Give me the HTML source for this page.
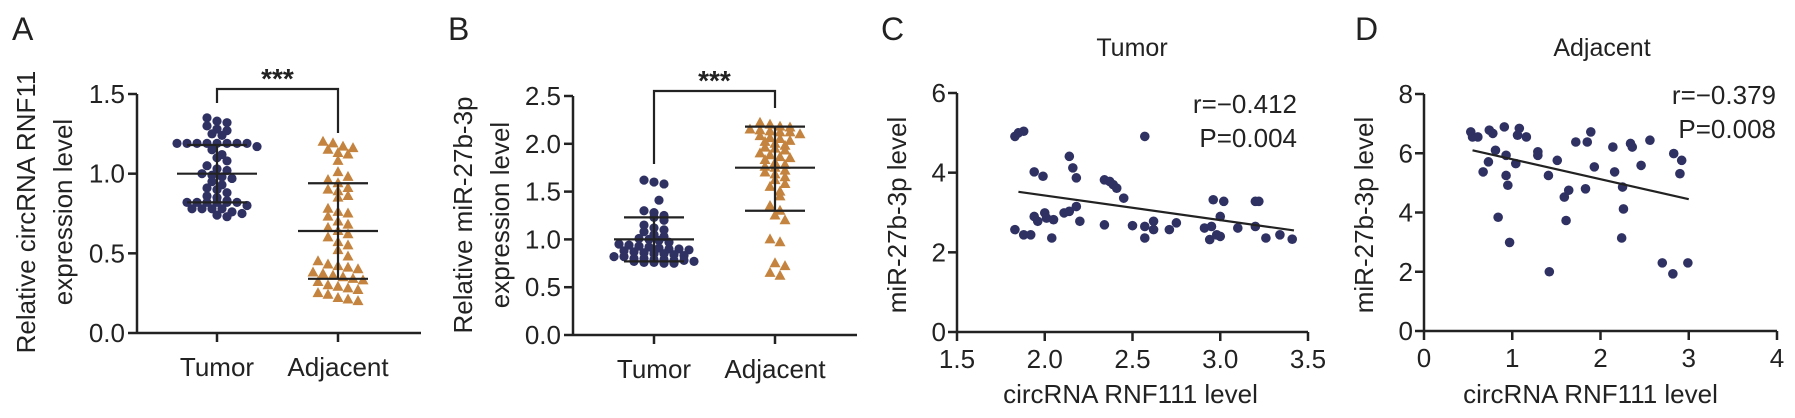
<!DOCTYPE html>
<html><head><meta charset="utf-8">
<style>
html,body{margin:0;padding:0;background:#fff;}
svg{display:block;font-family:"Liberation Sans",Arial,sans-serif;}
</style></head>
<body>
<svg id="fig" width="1795" height="418" viewBox="0 0 1795 418"></svg>
<script>
// ---- Panel A data ----
const aCategories = ["Tumor","Adjacent"];
const aTumor = [1.35,1.33,1.32,1.30,1.28,1.27,1.25,1.24,1.19,1.19,1.19,1.19,1.19,1.19,1.19,1.19,1.17,1.15,1.12,1.10,1.08,1.05,1.03,1.02,1.00,0.99,0.98,0.97,0.95,0.93,0.91,0.90,0.88,0.86,0.85,0.83,0.82,0.82,0.82,0.82,0.82,0.82,0.80,0.78,0.78,0.78,0.78,0.76,0.75,0.74,0.73];
const aAdjacent = [1.20,1.19,1.17,1.16,1.15,1.13,1.12,1.08,1.01,0.98,0.96,0.94,0.91,0.90,0.89,0.86,0.85,0.78,0.76,0.75,0.73,0.70,0.68,0.66,0.64,0.62,0.60,0.57,0.55,0.52,0.48,0.45,0.43,0.42,0.41,0.40,0.38,0.37,0.36,0.35,0.34,0.33,0.32,0.30,0.29,0.28,0.27,0.25,0.24,0.22,0.21,0.20];
const aMean = [1.00,0.64];
const aSdHigh = [1.18,0.94];
const aSdLow = [0.82,0.34];
const aTicks = [0.0,0.5,1.0,1.5];
const aTickLabels = ["0.0","0.5","1.0","1.5"];
// ---- Panel B data ----
const bTumor = [1.62,1.60,1.58,1.41,1.30,1.28,1.25,1.23,1.20,1.15,1.12,1.10,1.08,1.05,1.03,1.01,1.00,0.99,0.97,0.95,0.94,0.93,0.92,0.91,0.90,0.90,0.89,0.88,0.87,0.86,0.85,0.85,0.84,0.83,0.82,0.82,0.80,0.80,0.79,0.79,0.78,0.78,0.77,0.77,0.76,0.76,0.75,0.75];
const bAdjacent = [2.22,2.20,2.18,2.17,2.15,2.14,2.13,2.12,2.12,2.10,2.08,2.06,2.05,2.03,2.02,2.00,1.98,1.96,1.95,1.93,1.90,1.88,1.86,1.85,1.83,1.80,1.78,1.76,1.75,1.72,1.70,1.68,1.65,1.62,1.58,1.55,1.50,1.45,1.35,1.30,1.25,1.20,1.00,0.97,0.75,0.72,0.65,0.62];
const bMean = [1.00,1.75];
const bSdHigh = [1.23,2.18];
const bSdLow = [0.77,1.30];
const bTicks = [0.0,0.5,1.0,1.5,2.0,2.5];
const bTickLabels = ["0.0","0.5","1.0","1.5","2.0","2.5"];
// ---- Panel C data ----
const cX = [1.83,1.88,1.85,1.94,1.99,1.83,1.88,1.92,1.94,1.96,2.00,2.01,2.05,2.04,2.11,2.14,2.18,2.20,2.14,2.16,2.18,2.34,2.34,2.37,2.39,2.41,2.45,2.50,2.57,2.57,2.57,2.62,2.62,2.71,2.75,2.91,2.95,2.94,2.98,3.00,2.96,3.02,3.00,3.10,3.20,3.20,3.22,3.26,3.34,3.41];
const cY = [4.91,5.04,5.00,4.02,3.91,2.57,2.44,2.44,2.90,2.78,2.99,2.86,2.82,2.36,2.99,3.03,3.15,2.78,4.41,4.12,3.87,2.69,3.82,3.78,3.70,3.61,3.36,2.67,4.91,2.65,2.36,2.78,2.57,2.57,2.74,2.61,2.65,2.32,2.44,2.40,3.32,3.28,2.90,2.61,2.65,3.28,3.28,2.36,2.44,2.33];
const cFit = [[1.85,3.52],[3.42,2.55]];
const cXTicks = [1.5,2.0,2.5,3.0,3.5];
const cXTickLabels = ["1.5","2.0","2.5","3.0","3.5"];
const cYTicks = [0,2,4,6];
const cYTickLabels = ["0","2","4","6"];
// ---- Panel D data ----
const dX = [0.53,0.55,0.61,0.74,0.78,0.91,1.08,1.06,1.16,0.81,0.93,0.73,0.67,1.04,0.93,0.95,1.29,1.29,1.51,1.41,1.72,1.85,1.89,1.93,1.83,1.64,1.59,1.61,0.84,0.97,2.14,2.16,2.25,2.26,2.24,2.34,2.36,2.46,2.56,2.83,2.92,2.90,2.70,2.82,2.99,1.42];
const dY = [6.72,6.55,6.55,6.78,6.67,6.89,6.84,6.61,6.55,6.10,5.93,5.71,5.37,5.65,5.25,4.92,6.05,5.93,5.76,5.25,6.38,6.38,6.72,5.54,4.80,4.75,4.52,3.73,3.84,2.99,6.21,5.37,4.86,4.12,3.14,6.33,6.21,5.59,6.44,5.99,5.76,5.31,2.30,1.93,2.30,2.00];
const dFit = [[0.55,6.10],[3.00,4.45]];
const dXTicks = [0,1,2,3,4];
const dXTickLabels = ["0","1","2","3","4"];
const dYTicks = [0,2,4,6,8];
const dYTickLabels = ["0","2","4","6","8"];

const NS="http://www.w3.org/2000/svg";
const svg=document.getElementById('fig');
const BLUE="#2f3163", ORANGE="#c4843f", INK="#222";
function mk(tag,attrs,parent){const e=document.createElementNS(NS,tag);for(const k in attrs)e.setAttribute(k,attrs[k]);(parent||svg).appendChild(e);return e;}
function txt(s,x,y,size,anchor,parent,extra){const t=mk('text',Object.assign({x:x,y:y,'font-size':size,'text-anchor':anchor||'middle',fill:INK},extra||{}),parent);t.textContent=s;return t;}
function line(x1,y1,x2,y2,parent,w){return mk('line',{x1:x1,y1:y1,x2:x2,y2:y2,stroke:INK,'stroke-width':w||2.5},parent);}

function swarm(vals,tol,step,maxN){
  const sorted=vals.map((v,i)=>({v:v,i:i})).sort((a,b)=>b.v-a.v);
  const rows=[];
  sorted.forEach(o=>{const r=rows[rows.length-1];if(r&&Math.abs(r.v-o.v)<=tol&&r.items.length<maxN)r.items.push(o);else rows.push({v:o.v,items:[o]});});
  const out=[];
  rows.forEach((r,ri)=>{const n=r.items.length;const sh=(ri%2)*step*0.5;r.items.forEach((o,k)=>{out.push({v:o.v,dx:(k-(n-1)/2)*step+(n<3?sh:0)});});});
  return out;
}

function dotPanel(cfg){
  const g=mk('g',{});
  
  
  const y=v=>cfg.y0-(v-cfg.ticks[0])/(cfg.ticks[cfg.ticks.length-1]-cfg.ticks[0])*(cfg.y0-cfg.yTop);
  const ya=line(cfg.ax,cfg.yTop,cfg.ax,cfg.y0,g);
  const xa=line(cfg.ax,cfg.y0,cfg.axEnd,cfg.y0,g);
  cfg.ticks.forEach((t,i)=>{line(cfg.ax-9,y(t),cfg.ax,y(t),g);
    const l=txt(cfg.tickLabels[i],cfg.ax-12,y(t)+9,26,'end',g);
    });
  cfg.cats.forEach((c,i)=>{line(cfg.cx[i],cfg.y0,cfg.cx[i],cfg.y0+9,g);
    const l=txt(c,cfg.cx[i],cfg.y0+43,26,'middle',g);
    });
  [cfg.s1,cfg.s2].forEach((vals,si)=>{
    swarm(vals,cfg.tol[si],10,9).forEach(p=>{
      const px=cfg.cx[si]+p.dx, py=y(p.v);
      let m;
      if(si===0){m=mk('circle',{cx:px,cy:py,r:4.6,fill:BLUE},g);}
      else{m=mk('polygon',{points:`${px},${py-6} ${px-5.5},${py+4} ${px+5.5},${py+4}`,fill:ORANGE},g);}
      
    });
  });
  [0,1].forEach(i=>{
    const cx=cfg.cx[i];
    line(cx-40,y(cfg.mean[i]),cx+40,y(cfg.mean[i]),g,2.2);
    line(cx,y(cfg.hi[i]),cx,y(cfg.lo[i]),g,2.2);
    line(cx-30,y(cfg.hi[i]),cx+30,y(cfg.hi[i]),g,2.2);
    line(cx-30,y(cfg.lo[i]),cx+30,y(cfg.lo[i]),g,2.2);
  });
  const br=mk('polyline',{points:`${cfg.cx[0]},${cfg.brL} ${cfg.cx[0]},${cfg.brTop} ${cfg.cx[1]},${cfg.brTop} ${cfg.cx[1]},${cfg.brR}`,fill:'none',stroke:INK,'stroke-width':2.2},g);
  
  const st=txt('***',(cfg.cx[0]+cfg.cx[1])/2,cfg.brTop-1,28,'middle',g,{'font-weight':'bold'});
  
  const tg=mk('g',{transform:`translate(${cfg.titleX},${cfg.titleCy}) rotate(-90)`},g);
  const t1=txt(cfg.title1,0,0,26,'middle',tg);
  const t2=txt(cfg.title2,0,37,26,'middle',tg);
  const pl=txt(cfg.letter,cfg.letterX,40,32,'start',g);
}

dotPanel({name:'panel-a',ax:137,axEnd:421,y0:333,yTop:94,ticks:aTicks,tickLabels:aTickLabels,cats:aCategories,cx:[217,338],
  s1:aTumor,s2:aAdjacent,tol:[0.035,0.05],mean:aMean,hi:aSdHigh,lo:aSdLow,brTop:89,brL:103,brR:133,
  title1:'Relative circRNA RNF11',title2:'expression level',titleX:35,titleCy:212,letter:'A',letterX:12});
dotPanel({name:'panel-b',ax:573,axEnd:857,y0:335,yTop:96,ticks:bTicks,tickLabels:bTickLabels,cats:aCategories,cx:[654,775],
  s1:bTumor,s2:bAdjacent,tol:[0.06,0.06],mean:bMean,hi:bSdHigh,lo:bSdLow,brTop:91,brL:164,brR:108,
  title1:'Relative miR-27b-3p',title2:'expression level',titleX:472,titleCy:215,letter:'B',letterX:448});

function scatterPanel(cfg){
  const g=mk('g',{});
  
  
  const X=v=>cfg.ax+(v-cfg.xT[0])/(cfg.xT[cfg.xT.length-1]-cfg.xT[0])*(cfg.axEnd-cfg.ax);
  const Y=v=>cfg.y0-(v-cfg.yT[0])/(cfg.yT[cfg.yT.length-1]-cfg.yT[0])*(cfg.y0-cfg.yTop);
  line(cfg.ax,cfg.yTop,cfg.ax,cfg.y0,g);
  line(cfg.ax,cfg.y0,cfg.axEnd,cfg.y0,g);
  cfg.yT.forEach((t,i)=>{line(cfg.ax-9,Y(t),cfg.ax,Y(t),g);
    const l=txt(cfg.yL[i],cfg.ax-11,Y(t)+9,26,'end',g);});
  cfg.xT.forEach((t,i)=>{line(X(t),cfg.y0,X(t),cfg.y0+9,g);
    const l=txt(cfg.xL[i],X(t),cfg.y0+36,26,'middle',g);});
  cfg.xs.forEach((xv,i)=>{const c=mk('circle',{cx:X(xv),cy:Y(cfg.ys[i]),r:4.8,fill:BLUE},g);
    });
  const f=line(X(cfg.fit[0][0]),Y(cfg.fit[0][1]),X(cfg.fit[1][0]),Y(cfg.fit[1][1]),g,2.2);
  
  const r=txt(cfg.r,cfg.statX,cfg.statY,26,'end',g);
  const p=txt(cfg.p,cfg.statX,cfg.statY+34,26,'end',g);
  const tt=txt(cfg.title,cfg.titleX,56,25,'middle',g);
  const xt=txt('circRNA RNF111 level',(cfg.ax+cfg.axEnd)/2+(cfg.xtShift||0),403,26,'middle',g);
  const tg=mk('g',{transform:`translate(${cfg.ytX},215) rotate(-90)`},g);
  const yt=txt('miR-27b-3p level',0,0,26,'middle',tg);
  const pl=txt(cfg.letter,cfg.letterX,40,32,'start',g);
}
scatterPanel({name:'panel-c',ax:957,axEnd:1308,y0:332,yTop:93,xT:cXTicks,xL:cXTickLabels,yT:cYTicks,yL:cYTickLabels,
  xs:cX,ys:cY,fit:cFit,r:'r=\u22120.412',p:'P=0.004',statX:1297,statY:113,title:'Tumor',titleX:1132,ytX:906,letter:'C',letterX:881,xtShift:-2});
scatterPanel({name:'panel-d',ax:1424,axEnd:1777,y0:331,yTop:94,xT:dXTicks,xL:dXTickLabels,yT:dYTicks,yL:dYTickLabels,
  xs:dX,ys:dY,fit:dFit,r:'r=\u22120.379',p:'P=0.008',statX:1776,statY:104,title:'Adjacent',titleX:1602,ytX:1373,letter:'D',letterX:1355,xtShift:-10});
</script>
</body></html>
